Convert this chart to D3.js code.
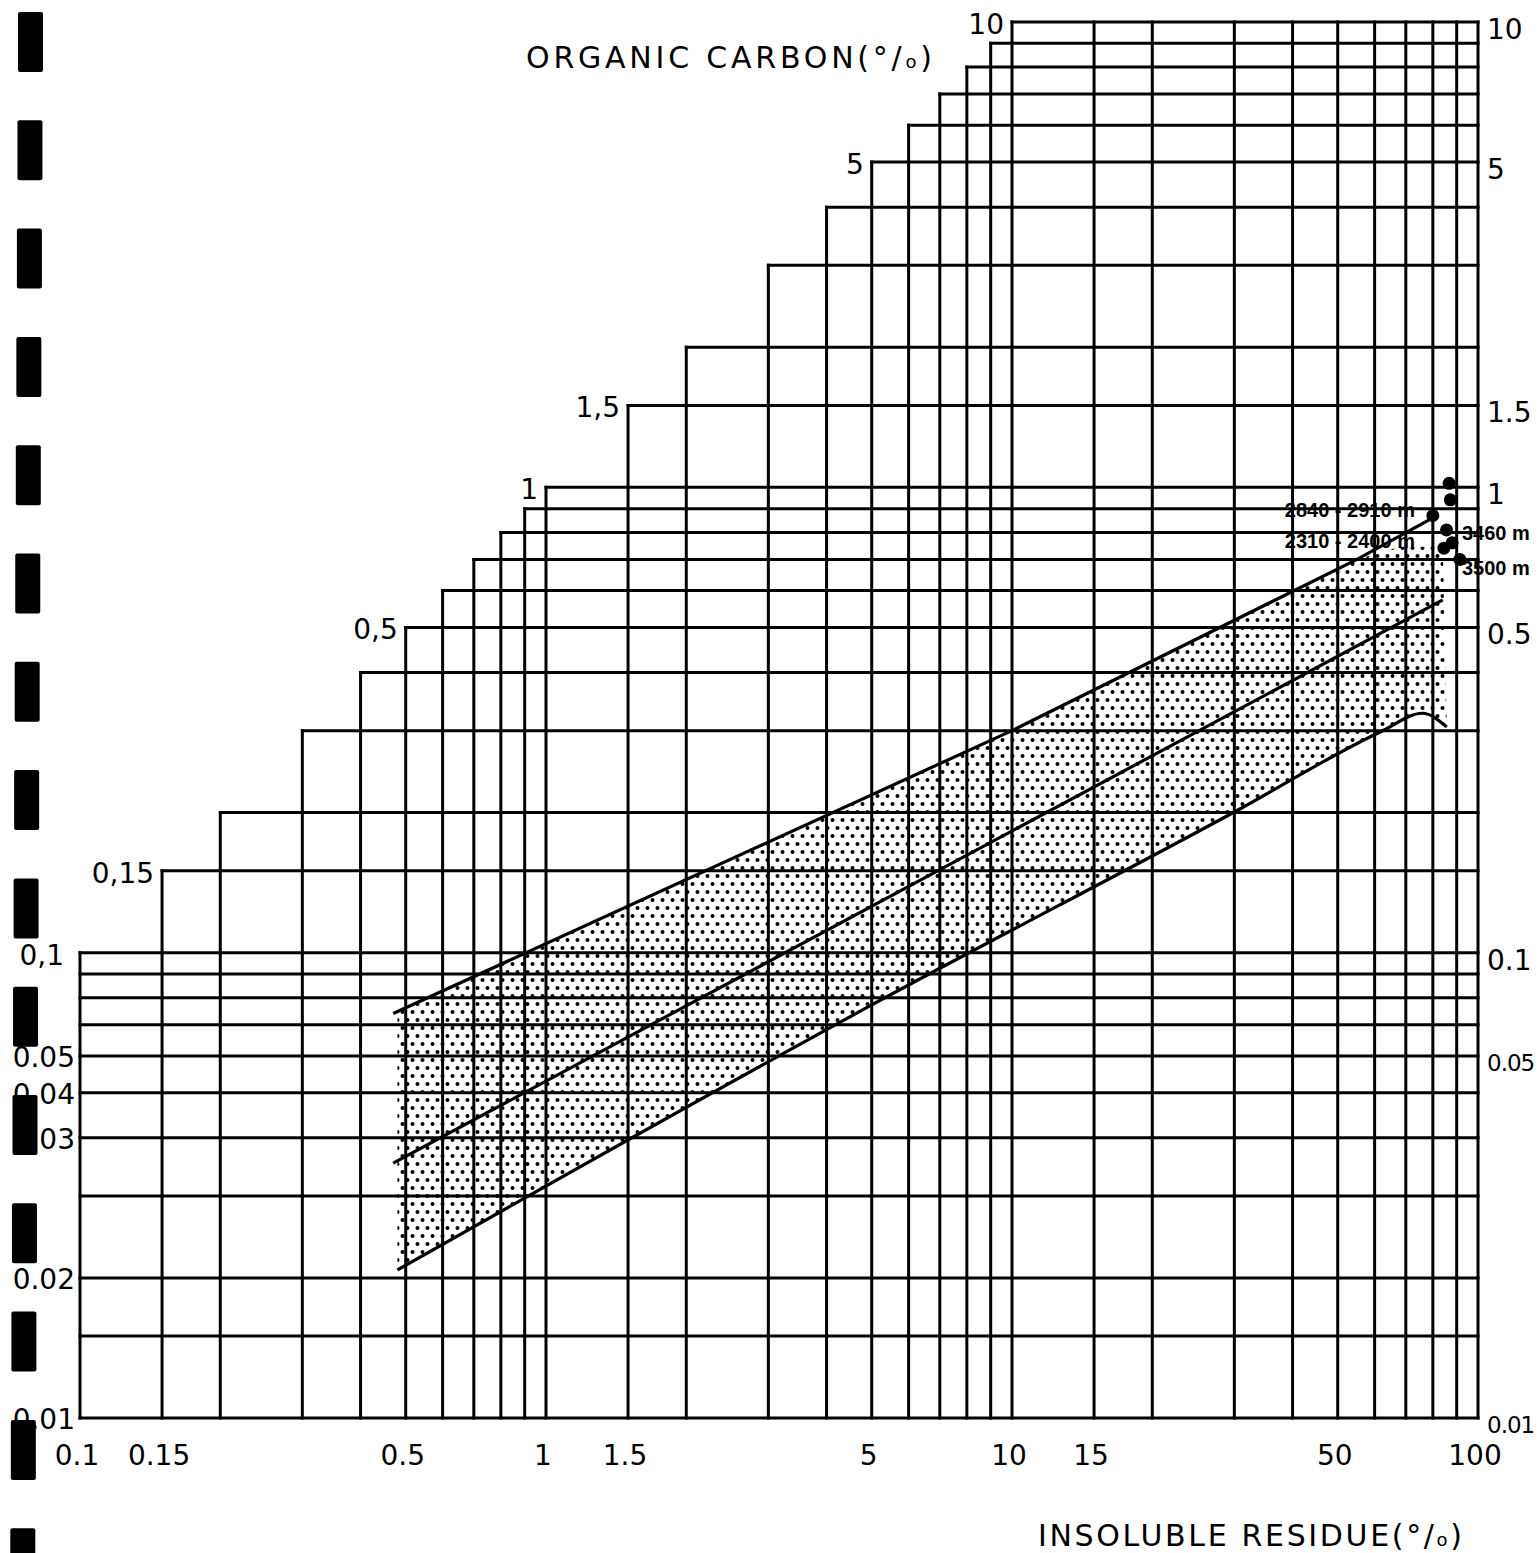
<!DOCTYPE html>
<html><head><meta charset="utf-8">
<script src="https://cdn.jsdelivr.net/npm/d3@7"></script>
<style>body{margin:0;background:#fff;overflow:hidden} svg{display:block;background:#fff}</style>
</head><body>
<script>
// ---------- DATA ----------
const xGridValues = [0.1,0.15,0.2,0.3,0.4,0.5,0.6,0.7,0.8,0.9,1,1.5,2,3,4,5,6,7,8,9,10,15,20,30,40,50,60,70,80,90,100];
const yGridValues = [0.01,0.015,0.02,0.03,0.04,0.05,0.06,0.07,0.08,0.09,0.1,0.15,0.2,0.3,0.4,0.5,0.6,0.7,0.8,0.9,1,1.5,2,3,4,5,6,7,8,9,10];
const xTickValues = [0.1,0.15,0.5,1,1.5,5,10,15,50,100];
const xTickTexts  = ["0.1","0.15","0.5","1","1.5","5","10","15","50","100"];
const stairValues = [0.1,0.15,0.5,1,1.5,5,10];
const stairTexts  = ["0,1","0,15","0,5","1","1,5","5","10"];
const leftLabelValues = [0.06,0.05,0.04,0.02,0.01];
const leftLabelTexts  = ["0.05","0.04","0.03","0.02","0.01"];
const rightLabelValues = [10,5,1.5,1,0.5,0.1,0.06,0.01];
const rightLabelTexts  = ["10","5","1.5","1","0.5","0.1","0.05","0.01"];

// band boundaries (insoluble residue %, organic carbon %)
const upperX = [0.47,10,55,80];
const upperY = [0.074,0.30,0.70,0.86];
const middleX = [0.47,84];
const middleY = [0.0353,0.573];
const lowerX = [0.48,5,30,62,76,85.7];
const lowerY = [0.0208,0.0772,0.2006,0.2988,0.327,0.3055];
const bandTopX = [0.48,10,55,68,84];
const bandTopY = [0.075,0.30,0.70,0.745,0.745];

// samples
const sampleX = [86.7,87.2,80,85.6,88,91.4,84.5];
const sampleY = [1.02,0.94,0.87,0.81,0.76,0.70,0.74];
const depthTexts = ["2840 - 2910 m","2310 - 2400 m","3460 m","3500 m"];
const depthX = [38.5,38.5,92.4,92.4];
const depthY = [0.894,0.767,0.798,0.671];

// ---------- CHART ----------
const W = 1539, H = 1553;
const svg = d3.select("body").append("svg").attr("width", W).attr("height", H);
const x = d3.scaleLog().domain([0.1,100]).range([80,1478]);
const y = d3.scaleLog().domain([0.01,10]).range([1418,22]);
const FONT = "'DejaVu Sans', sans-serif";

const defs = svg.append("defs");
const pat = defs.append("pattern").attr("id","stipple")
  .attr("patternUnits","userSpaceOnUse").attr("width",10).attr("height",16);
pat.append("circle").attr("cx",2.5).attr("cy",4).attr("r",2).attr("fill","#000");
pat.append("circle").attr("cx",7.5).attr("cy",12).attr("r",2).attr("fill","#000");

// band
const topPts = bandTopX.map((v,i)=>[x(v), y(bandTopY[i])]);
const lowPts = lowerX.map((v,i)=>[x(v), y(lowerY[i])]);
const linLine = d3.line();
const monoLine = d3.line().curve(d3.curveMonotoneX);
const bandD = linLine(topPts) + "L" + monoLine(lowPts.slice().reverse()).slice(1) + "Z";
svg.append("path").attr("d", bandD).attr("fill","url(#stipple)").attr("stroke","none");

// grid (staircase)
const grid = svg.append("g").attr("stroke","#000").attr("stroke-width",3).attr("stroke-linecap","square");
grid.selectAll("line.v").data(xGridValues).join("line").attr("class","v")
  .attr("x1", d=>x(d)).attr("x2", d=>x(d))
  .attr("y1", y(0.01)).attr("y2", d=>y(Math.min(d,10)));
grid.selectAll("line.h").data(yGridValues).join("line").attr("class","h")
  .attr("y1", d=>y(d)).attr("y2", d=>y(d))
  .attr("x1", d=>x(Math.max(d,0.1))).attr("x2", x(100));

// lines
const dataG = svg.append("g").attr("fill","none").attr("stroke","#000").attr("stroke-width",3.2);
dataG.append("path").attr("d", linLine(upperX.map((v,i)=>[x(v),y(upperY[i])])));
dataG.append("path").attr("d", linLine(middleX.map((v,i)=>[x(v),y(middleY[i])])));
dataG.append("path").attr("d", monoLine(lowPts));

// samples
svg.append("g").selectAll("circle").data(sampleX).join("circle")
  .attr("cx", (d)=>x(d)).attr("cy", (d,i)=>y(sampleY[i])).attr("r",6.5).attr("fill","#000");

// depth labels
svg.append("g").selectAll("text").data(depthTexts).join("text")
  .attr("x",(d,i)=>x(depthX[i])).attr("y",(d,i)=>y(depthY[i])).attr("dy","0.36em")
  .attr("font-family","'Liberation Sans', Arial, sans-serif")
  .attr("font-weight","bold").attr("font-size",20)
  .attr("fill","#000").text(d=>d);

// tick labels
const lab = svg.append("g").attr("font-family",FONT).attr("font-size",28).attr("fill","#000");
lab.selectAll("text.xt").data(xTickValues).join("text").attr("class","xt")
  .attr("x",d=>x(d)-3).attr("y",1455).attr("dy","0.36em").attr("text-anchor","middle")
  .text((d,i)=>xTickTexts[i]);
lab.selectAll("text.st").data(stairValues).join("text").attr("class","st")
  .attr("x",d=>x(d)-(d===0.1?16:8)).attr("y",d=>y(d)+2).attr("dy","0.36em").attr("text-anchor","end")
  .text((d,i)=>stairTexts[i]);
lab.selectAll("text.lt").data(leftLabelValues).join("text").attr("class","lt")
  .attr("x",x(0.1)-5).attr("y",d=>y(d)+1).attr("dy","0.36em").attr("text-anchor","end")
  .text((d,i)=>leftLabelTexts[i]);
lab.selectAll("text.rt").data(rightLabelValues).join("text").attr("class","rt")
  .attr("x",x(100)+9).attr("y",d=>y(d)+7).attr("dy","0.36em").attr("text-anchor","start")
  .attr("font-size",(d,i)=>rightLabelTexts[i].length>3?23:28)
  .attr("letter-spacing",(d,i)=>rightLabelTexts[i].length>3?-1:0)
  .text((d,i)=>rightLabelTexts[i]);

// axis titles
function title(tx, ty, main, len){
  const t = svg.append("text").attr("x",tx).attr("y",ty)
    .attr("font-family",FONT).attr("font-size",30).attr("fill","#000")
    .attr("textLength",len).attr("lengthAdjust","spacing");
  t.append("tspan").text(main + "(°/");
  t.append("tspan").attr("font-size",18).text("o");
  t.append("tspan").text(")");
}
title(526, 68, "ORGANIC  CARBON", 406);
title(1038, 1546, "INSOLUBLE  RESIDUE", 424);

// scan edge marks (decoration)
const marks = d3.range(15);
svg.append("g").selectAll("rect").data(marks).join("rect")
  .attr("x", i=>18 - i*0.55).attr("y", i=>12 + i*108.3)
  .attr("width",25).attr("height",60).attr("rx",2).attr("fill","#000");
</script>
</body></html>
